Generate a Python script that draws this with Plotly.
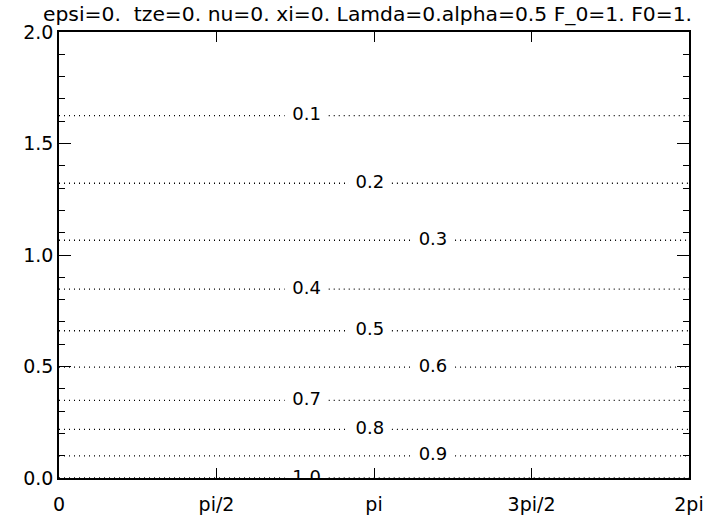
import math
import plotly.graph_objects as go

# Contour levels and the (constant) height at which each level line sits
levels = [0.1, 0.2, 0.3, 0.4, 0.5, 0.6, 0.7, 0.8, 0.9, 1.0]
level_y = [1.625, 1.322, 1.066, 0.847, 0.660, 0.497, 0.348, 0.218, 0.099, 0.0]

x_tickvals = [0, math.pi / 2, math.pi, 3 * math.pi / 2, 2 * math.pi]
x_ticktext = ["0", "pi/2", "pi", "3pi/2", "2pi"]
y_tickvals = [0.0, 0.5, 1.0, 1.5, 2.0]
y_ticktext = ["0.0", "0.5", "1.0", "1.5", "2.0"]

title_text = "epsi=0.  tze=0. nu=0. xi=0. Lamda=0.alpha=0.5 F_0=1. F0=1."

# label placement cycle (x in radians) and half-gap around the label
label_cycle = [2.47, 3.10, 3.73]
half_gap = 0.22

FONT = "DejaVu Sans"
xmax = 2 * math.pi

fig = go.Figure()

lx_all, ly_all, lt_all = [], [], []
for i, (lev, y) in enumerate(zip(levels, level_y)):
    lx = label_cycle[i % 3]
    xs = [0, lx - half_gap, None, lx + half_gap, xmax]
    ys = [y, y, None, y, y]
    fig.add_trace(go.Scatter(
        x=xs, y=ys, mode="lines",
        line=dict(color="black", width=1.4, dash="1px,4px"),
        hoverinfo="skip", showlegend=False,
    ))
    lx_all.append(lx)
    ly_all.append(y)
    lt_all.append(f"{lev:.1f}")

fig.add_trace(go.Scatter(
    x=lx_all, y=ly_all, text=lt_all, mode="text",
    textposition="middle center",
    textfont=dict(family=FONT, size=18, color="black"),
    cliponaxis=True, hoverinfo="skip", showlegend=False,
))

axis_common = dict(
    showline=True, linecolor="black", linewidth=1.6,
    mirror="allticks", ticks="inside", tickcolor="black", tickwidth=1.3,
    showgrid=False, zeroline=False, automargin=False,
    tickfont=dict(family=FONT, size=19, color="black"),
)

fig.update_xaxes(
    range=[0, xmax], tickmode="array", tickvals=x_tickvals, ticktext=x_ticktext,
    ticklen=10, ticklabelstandoff=8, **axis_common,
)
fig.update_yaxes(
    range=[0, 2], tickmode="array", tickvals=y_tickvals, ticktext=y_ticktext,
    ticklen=12, ticklabelstandoff=0,
    minor=dict(dtick=0.1, ticklen=6, ticks="inside", tickcolor="black", tickwidth=1.3, showgrid=False),
    **axis_common,
)

fig.add_annotation(
    text=title_text, xref="paper", yref="paper",
    x=0.49, y=1.0, yshift=18, xanchor="center", yanchor="middle",
    showarrow=False, font=dict(family=FONT, size=20.3, color="black"),
)

fig.update_layout(
    width=716, height=517,
    margin=dict(l=59, r=27, t=32, b=39),
    paper_bgcolor="white", plot_bgcolor="white",
)

fig.write_html("out.html")
